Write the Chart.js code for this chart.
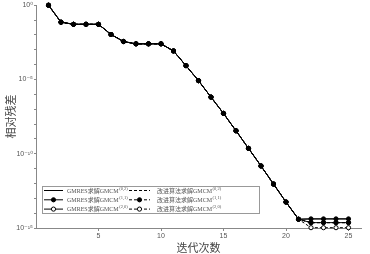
<!DOCTYPE html>
<html>
<head>
<meta charset="utf-8">
<script src="https://cdn.jsdelivr.net/npm/chart.js@4"></script>
<style>
  body { margin: 0; background: #fff; }
</style>
</head>
<body>
<canvas id="myChart" width="370" height="254"></canvas>
<script>
var iterations = [1, 2, 3, 4, 5, 6, 7, 8, 9, 10, 11, 12, 13, 14, 15, 16, 17, 18, 19, 20, 21, 22, 23, 24, 25]

// residual shared by every method up to iteration 21
var sharedResidual = [1, 7.2e-2, 5.2e-2, 5.2e-2, 5.2e-2, 1.07e-2, 3.6e-3, 2.5e-3, 2.5e-3, 2.5e-3,
    8.3e-4, 8.5e-5, 8.3e-6, 6.5e-7, 5.2e-8, 3.5e-9, 2.3e-10, 1.5e-11, 9.1e-13, 5.6e-14, 3.9e-15]

// iterations 22..25
var tailGmres02 = [4.1e-15, 4.1e-15, 4.1e-15, 4.1e-15]
var tailGmres11 = [4.1e-15, 4.1e-15, 4.1e-15, 4.1e-15]
var tailGmres20 = [2.3e-15, 2.3e-15, 2.3e-15, 2.3e-15]
var tailNew02 = [2.3e-15, 2.3e-15, 2.3e-15, 2.3e-15]
var tailNew11 = [2.3e-15, 2.3e-15, 2.3e-15, 2.3e-15]
var tailNew20 = [1.05e-15, 1.05e-15, 1.05e-15, 1.05e-15]

var seriesNames = ['GMRES求解GMCM', '改进算法求解GMCM']
var seriesSups = ['(0,2)', '(1,1)', '(2,0)']

var xTicks = [5, 10, 15, 20, 25]
var yTickValues = [1, 1e-1, 1e-2, 1e-3, 1e-4, 1e-5, 1e-6, 1e-7, 1e-8, 1e-9, 1e-10, 1e-11, 1e-12, 1e-13, 1e-14, 1e-15]
var yTickLabels = ['10⁰', '', '', '', '', '10⁻⁵', '', '', '', '', '10⁻¹⁰', '', '', '', '', '10⁻¹⁵']

function points(tail) {
    var ys = sharedResidual.concat(tail)
    return iterations.map(function (x, i) { return { x: x, y: ys[i] } })
}

function series(name, sup, tail, marker, dashed, order) {
    return {
        label: name,
        sup: sup,
        marker: marker,
        data: points(tail),
        borderColor: '#000',
        borderWidth: 1,
        borderDash: dashed ? [3, 2] : [],
        pointRadius: marker ? 2.1 : 0,
        pointBorderWidth: 1,
        pointBorderColor: '#000',
        pointBackgroundColor: marker === 'open' ? '#fff' : '#000',
        order: order
    }
}

var datasets = [
    series(seriesNames[0], seriesSups[0], tailGmres02, null, false, 1),
    series(seriesNames[1], seriesSups[0], tailNew02, null, true, 1),
    series(seriesNames[0], seriesSups[1], tailGmres11, 'filled', false, 0),
    series(seriesNames[1], seriesSups[1], tailNew11, 'filled', true, 0),
    series(seriesNames[0], seriesSups[2], tailGmres20, 'open', false, 2),
    series(seriesNames[1], seriesSups[2], tailNew20, 'open', true, 2)
]

var legendFont = '"Liberation Serif", "Noto Sans CJK SC", serif'

// boxed two column legend inside the plot, bottom left
var boxLegend = {
    id: 'boxLegend',
    afterDraw: function (chart) {
        var ctx = chart.ctx
        var bx = 42, by = 186, bw = 217, bh = 27
        ctx.save()
        ctx.fillStyle = '#fff'
        ctx.fillRect(bx, by, bw, bh)
        ctx.strokeStyle = '#999'
        ctx.lineWidth = 1
        ctx.strokeRect(bx + 0.5, by + 0.5, bw, bh)
        chart.data.datasets.forEach(function (ds, i) {
            var col = i % 2, row = Math.floor(i / 2)
            var x0 = col === 0 ? 44 : 129
            var x1 = col === 0 ? 63 : 150
            var tx = col === 0 ? 67 : 157
            var y = 190.5 + row * 9.3
            ctx.strokeStyle = '#000'
            ctx.lineWidth = 1
            ctx.setLineDash(ds.borderDash)
            ctx.beginPath()
            ctx.moveTo(x0, y)
            ctx.lineTo(x1, y)
            ctx.stroke()
            ctx.setLineDash([])
            if (ds.marker) {
                ctx.beginPath()
                ctx.arc((x0 + x1) / 2, y, 2.1, 0, Math.PI * 2)
                ctx.fillStyle = ds.marker === 'open' ? '#fff' : '#000'
                ctx.fill()
                ctx.stroke()
            }
            ctx.fillStyle = '#555'
            ctx.textBaseline = 'middle'
            ctx.font = '6px ' + legendFont
            ctx.fillText(ds.label, tx, y + 0.5)
            var w = ctx.measureText(ds.label).width
            ctx.font = '4.5px ' + legendFont
            ctx.fillText(ds.sup, tx + w + 0.5, y - 2)
        })
        ctx.restore()
    }
}

var tickFont = { family: '"Liberation Sans", "DejaVu Sans", sans-serif', size: 7 }
var cjkFont = { family: '"Noto Sans CJK SC", sans-serif', size: 11 }

var ctx = document.getElementById('myChart').getContext('2d')
var myChart = new Chart(ctx, {
    type: 'line',
    data: { datasets: datasets },
    options: {
        responsive: false,
        animation: false,
        layout: { padding: { top: 5, right: 9, left: 0, bottom: 0 } },
        plugins: { legend: { display: false }, tooltip: { enabled: false } },
        elements: { line: { tension: 0 } },
        clip: false,
        scales: {
            x: {
                type: 'linear',
                min: 0,
                max: 26,
                afterBuildTicks: function (scale) {
                    scale.ticks = xTicks.map(function (v) { return { value: v } })
                },
                afterFit: function (scale) { scale.height = 26 },
                grid: { drawOnChartArea: false, tickLength: 3, color: '#888' },
                border: { color: '#888' },
                ticks: { font: tickFont, color: '#555', padding: 1, maxRotation: 0 },
                title: { display: true, text: '迭代次数', font: cjkFont, color: '#444', padding: 0 }
            },
            y: {
                type: 'logarithmic',
                min: 1e-15,
                max: 1,
                afterBuildTicks: function (scale) {
                    scale.ticks = yTickValues.map(function (v) { return { value: v } })
                },
                afterFit: function (scale) { scale.width = 36 },
                grid: { drawOnChartArea: false, tickLength: 2, color: '#888' },
                border: { color: '#888' },
                ticks: {
                    font: tickFont,
                    color: '#555',
                    padding: 1,
                    autoSkip: false,
                    callback: function (v, i) { return yTickLabels[i] }
                },
                title: { display: true, text: '相对残差', font: cjkFont, color: '#444', padding: { top: 4, bottom: 0 } }
            }
        }
    },
    plugins: [boxLegend]
})
</script>
</body>
</html>
